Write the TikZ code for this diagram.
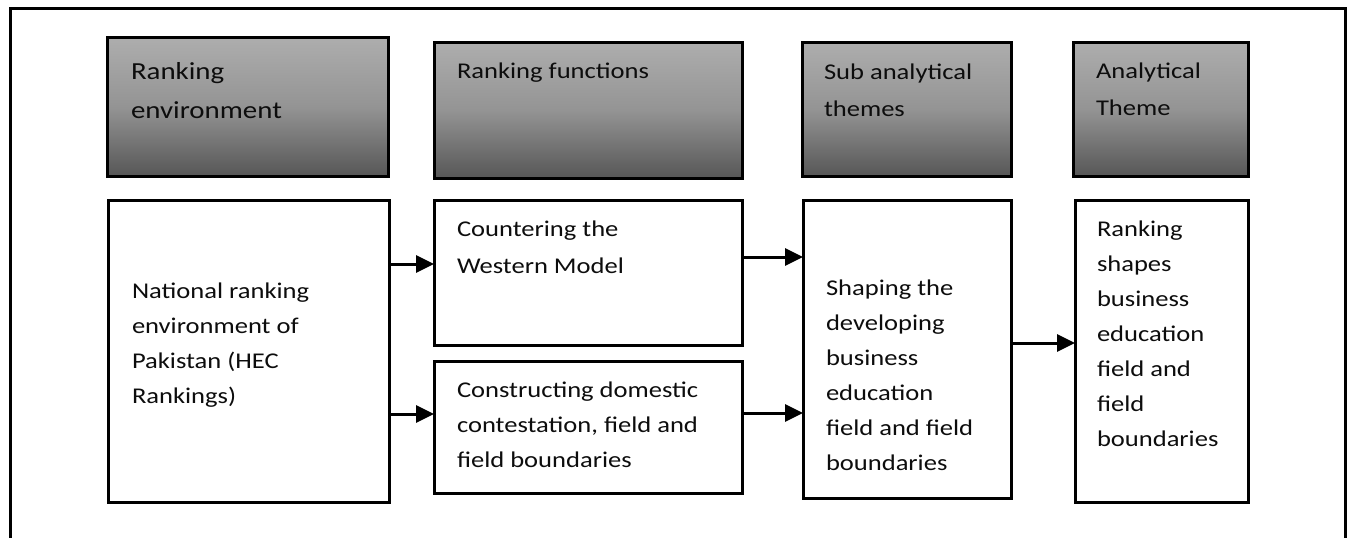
\documentclass[tikz,border=0pt]{standalone}
\usepackage{fontspec}
\setmainfont{Carlito}[FakeStretch=1.18]
\usetikzlibrary{arrows.meta,calc}
\newcommand\tl[1]{\vtop{\halign{##\hfil\cr#1\crcr}}}
\tikzset{
  frame/.style={line width=3pt, black},
  hbox/.style={draw=black, line width=3pt, inner sep=0pt, outer sep=0pt, anchor=north west,
    top color=black!32, bottom color=black!66, middle color=black!42},
  wbox/.style={draw=black, line width=3pt, inner sep=0pt, outer sep=0pt, anchor=north west, fill=white},
  txt/.style={anchor=base west, inner sep=0pt, outer sep=0pt, text=black!95,
    font=\fontsize{22.5pt}{35pt}\selectfont},
  htxt/.style={txt, font=\fontsize{22.5pt}{37pt}\selectfont},
  bigtxt/.style={txt, font=\fontsize{24.5pt}{39pt}\selectfont},
  arr/.style={line width=3pt, -{Triangle[length=18pt,width=17pt]}},
}
\begin{document}
\begin{tikzpicture}[x=1pt,y=-1pt]
\useasboundingbox (0,0) rectangle (1347,538);
% outer frame
\draw[frame] (10.5,540) -- (10.5,8) -- (1345.6,8) -- (1345.6,540);

% header boxes
\node[hbox, minimum width=281pt, minimum height=139pt] (h1) at (107,37) {};
\node[hbox, minimum width=308pt, minimum height=136pt] (h2) at (434,42) {};
\node[hbox, minimum width=209pt, minimum height=134pt] (h3) at (802,42) {};
\node[hbox, minimum width=175pt, minimum height=134pt] (h4) at (1073,42) {};

% lower boxes
\node[wbox, minimum width=281pt, minimum height=302pt] (b1) at (108,200) {};
\node[wbox, minimum width=308pt, minimum height=145pt] (b2a) at (434,200) {};
\node[wbox, minimum width=308pt, minimum height=132pt] (b2b) at (434,361) {};
\node[wbox, minimum width=208pt, minimum height=298pt] (b3) at (803,200) {};
\node[wbox, minimum width=173pt, minimum height=302pt] (b4) at (1075,200) {};

% header texts
\node[bigtxt] (th1) at (131,79) {\tl{Ranking\cr environment}};
\node[htxt] (th2) at (457,78) {\tl{Ranking functions}};
\node[htxt] (th3) at (824,79) {\tl{Sub analytical\cr themes}};
\node[htxt] (th4) at (1096,78) {\tl{Analytical\cr Theme}};

% body texts
\node[txt] (tb1) at (132,298) {\tl{National ranking\cr environment of\cr Pakistan (HEC\cr Rankings)}};
\node[txt, font=\fontsize{22.5pt}{37pt}\selectfont] (tb2a) at (457,236) {\tl{Countering the\cr Western Model}};
\node[txt] (tb2b) at (457,397) {\tl{Constructing domestic\cr contestation, field and\cr field boundaries}};
\node[txt] (tb3) at (826,295) {\tl{Shaping the\cr developing\cr business\cr education\cr field and field\cr boundaries}};
\node[txt] (tb4) at (1097,236) {\tl{Ranking\cr shapes\cr business\cr education\cr field and\cr field\cr boundaries}};

% connectors
\draw[arr] ($(b1.north east)+(0,64)$) -- ($(b2a.north west)+(0,64)$);
\draw[arr] ($(b1.north east)+(0,214)$) -- ($(b2b.north west)+(0,53)$);
\draw[arr] ($(b2a.north east)+(0,57)$) -- ($(b3.north west)+(0,57)$);
\draw[arr] ($(b2b.north east)+(0,52)$) -- ($(b3.north west)+(0,213)$);
\draw[arr] ($(b3.north east)+(0,143)$) -- ($(b4.north west)+(0,143)$);
\end{tikzpicture}
\end{document}
